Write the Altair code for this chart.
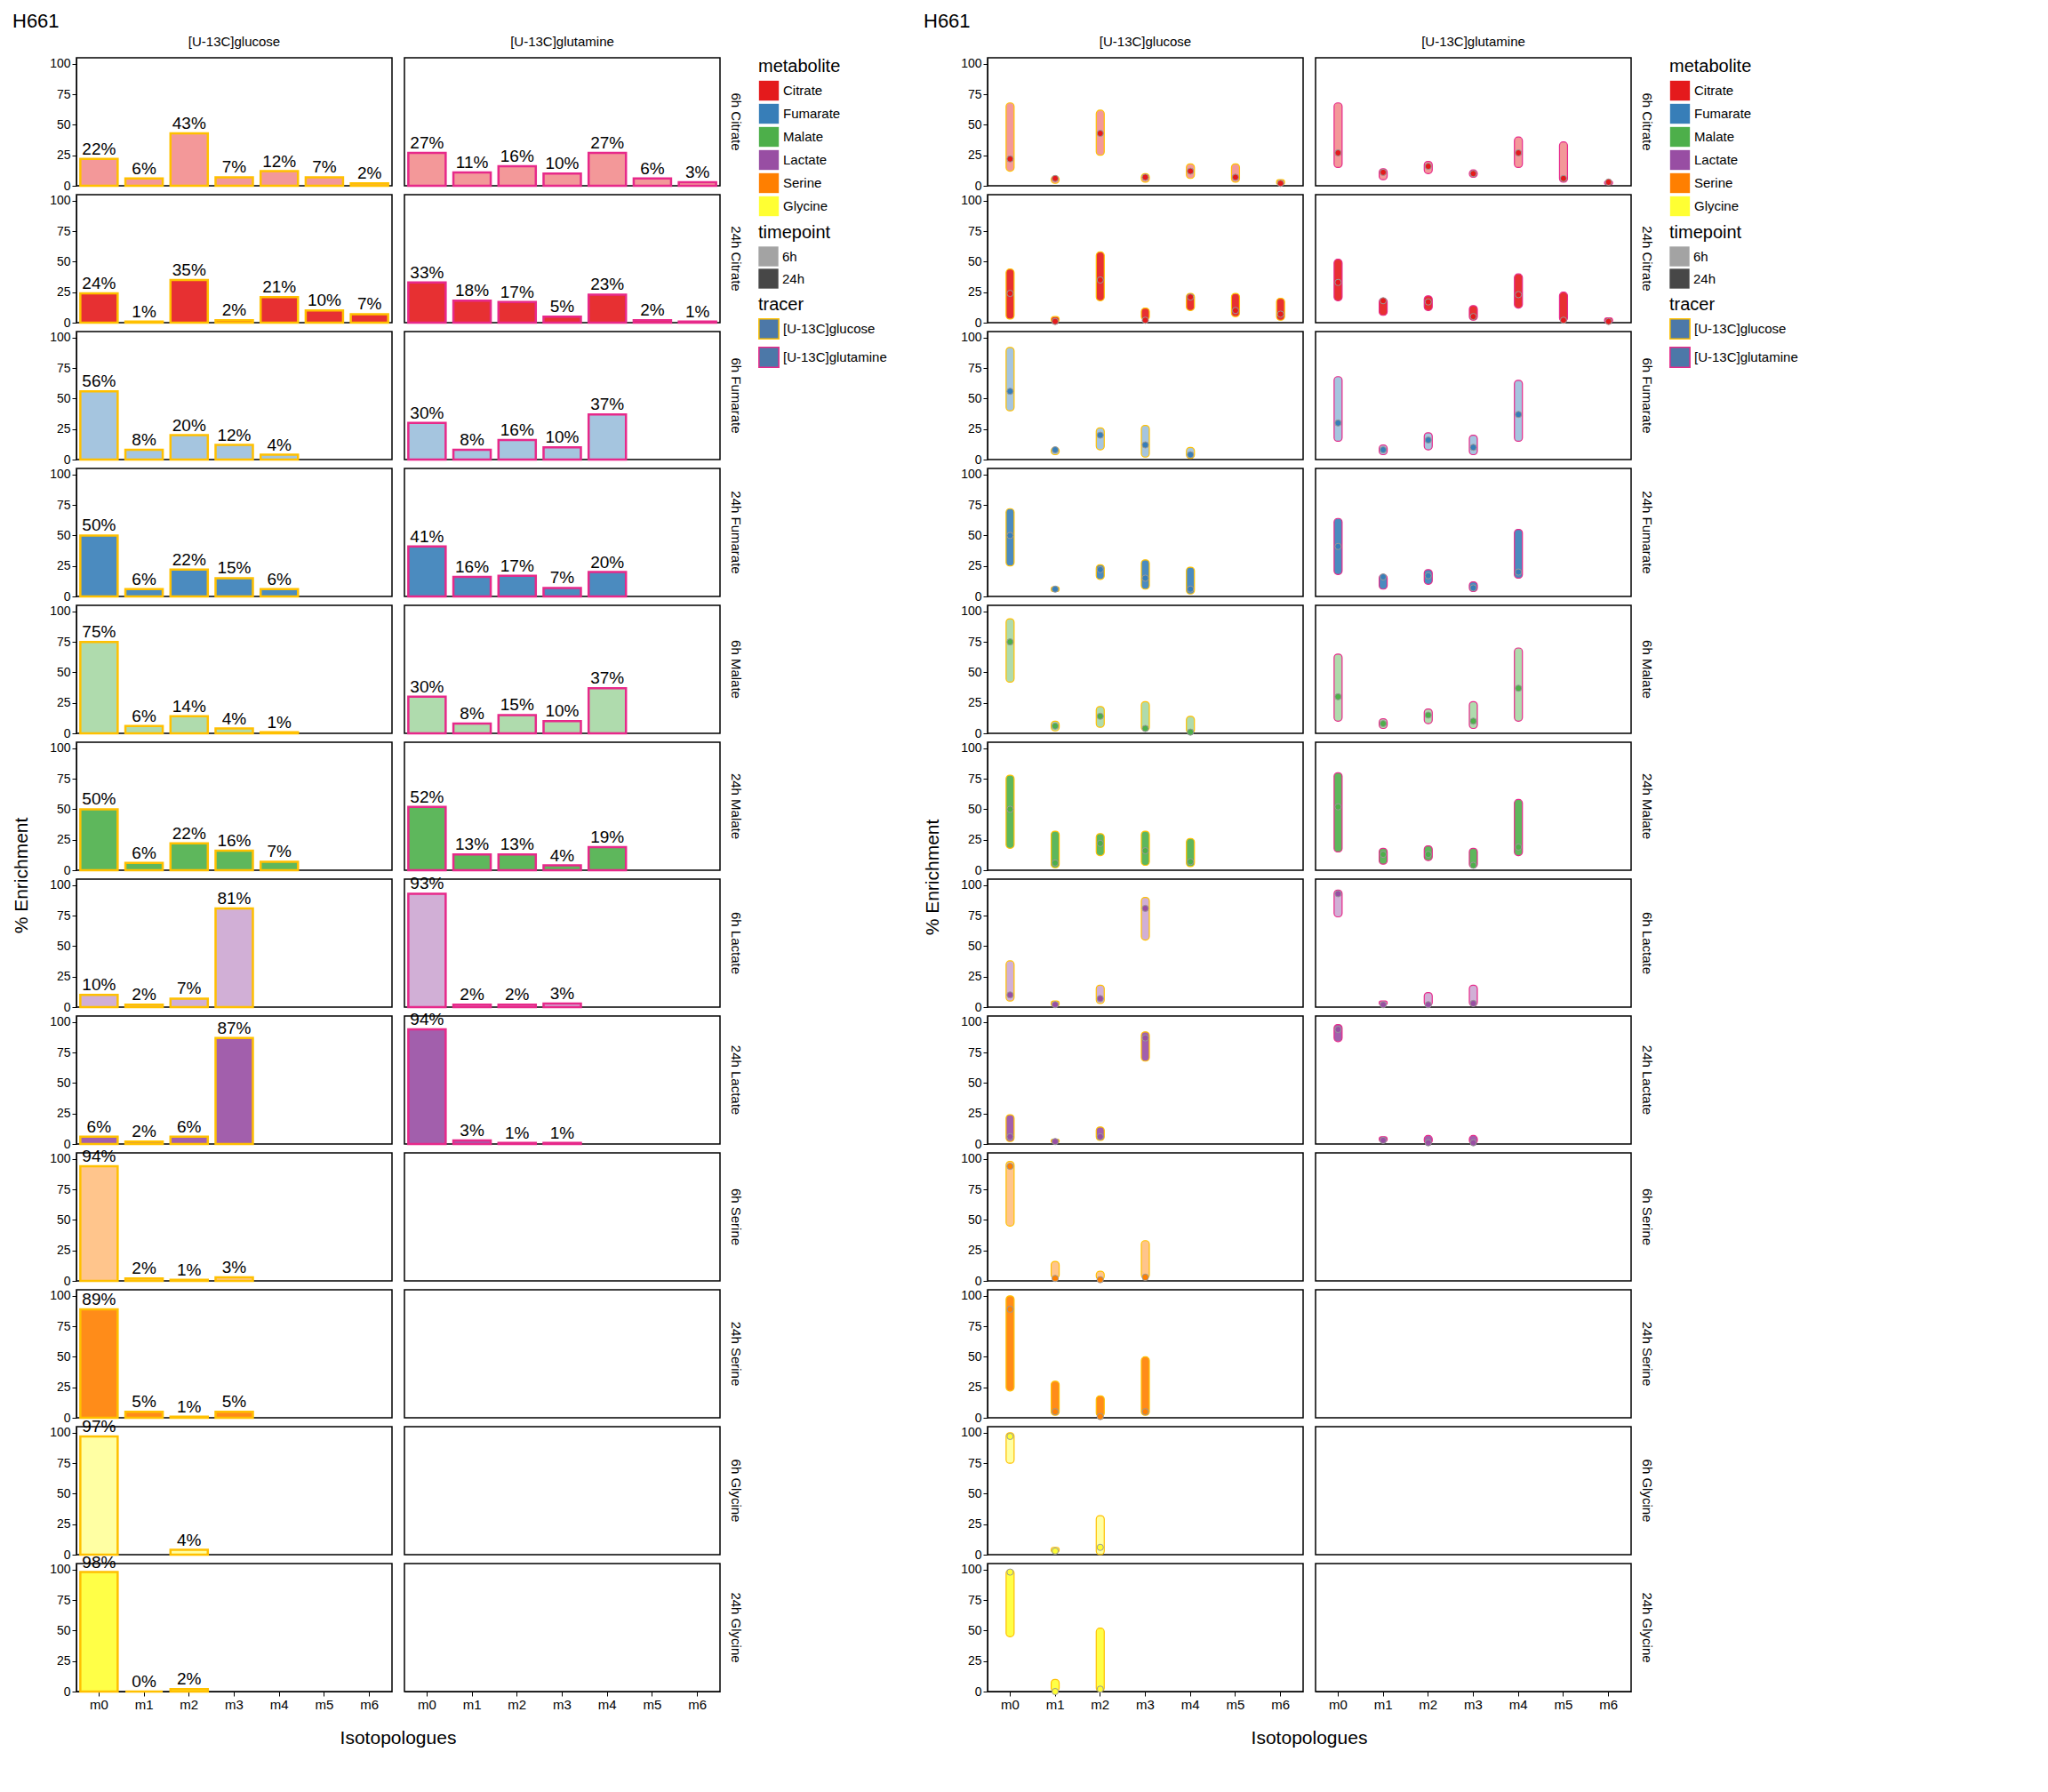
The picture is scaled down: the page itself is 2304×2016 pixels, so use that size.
import altair as alt
import pandas as pd

mets = ["Citrate", "Fumarate", "Malate", "Lactate", "Serine", "Glycine"]
met_colors = ["#E41A1C", "#377EB8", "#4DAF4A", "#984EA3", "#FF7F00", "#FFFF33"]
tracers = ["[U-13C]glucose", "[U-13C]glutamine"]
tracer_colors = ["#FFC000", "#E7298A"]
tps = ["6h", "24h"]
isos = ["m0", "m1", "m2", "m3", "m4", "m5", "m6"]
yticks = [0, 25, 50, 75, 100]

# bar values (% enrichment) per (metabolite, timepoint, tracer), m0.. in order; None = missing
bars_vals = {
    ("Citrate", "6h", "[U-13C]glucose"): [22, 6, 43, 7, 12, 7, 2],
    ("Citrate", "6h", "[U-13C]glutamine"): [27, 11, 16, 10, 27, 6, 3],
    ("Citrate", "24h", "[U-13C]glucose"): [24, 1, 35, 2, 21, 10, 7],
    ("Citrate", "24h", "[U-13C]glutamine"): [33, 18, 17, 5, 23, 2, 1],
    ("Fumarate", "6h", "[U-13C]glucose"): [56, 8, 20, 12, 4],
    ("Fumarate", "6h", "[U-13C]glutamine"): [30, 8, 16, 10, 37],
    ("Fumarate", "24h", "[U-13C]glucose"): [50, 6, 22, 15, 6],
    ("Fumarate", "24h", "[U-13C]glutamine"): [41, 16, 17, 7, 20],
    ("Malate", "6h", "[U-13C]glucose"): [75, 6, 14, 4, 1],
    ("Malate", "6h", "[U-13C]glutamine"): [30, 8, 15, 10, 37],
    ("Malate", "24h", "[U-13C]glucose"): [50, 6, 22, 16, 7],
    ("Malate", "24h", "[U-13C]glutamine"): [52, 13, 13, 4, 19],
    ("Lactate", "6h", "[U-13C]glucose"): [10, 2, 7, 81],
    ("Lactate", "6h", "[U-13C]glutamine"): [93, 2, 2, 3],
    ("Lactate", "24h", "[U-13C]glucose"): [6, 2, 6, 87],
    ("Lactate", "24h", "[U-13C]glutamine"): [94, 3, 1, 1],
    ("Serine", "6h", "[U-13C]glucose"): [94, 2, 1, 3],
    ("Serine", "6h", "[U-13C]glutamine"): [],
    ("Serine", "24h", "[U-13C]glucose"): [89, 5, 1, 5],
    ("Serine", "24h", "[U-13C]glutamine"): [],
    ("Glycine", "6h", "[U-13C]glucose"): [97, None, 4],
    ("Glycine", "6h", "[U-13C]glutamine"): [],
    ("Glycine", "24h", "[U-13C]glucose"): [98, 0, 2],
    ("Glycine", "24h", "[U-13C]glutamine"): [],
}
# violin points (mean) and ranges (low, high)
vio_mean = dict(bars_vals)
vio_mean[("Glycine", "6h", "[U-13C]glucose")] = [97, 3, 6]
vio_lo = {
    ("Citrate", "6h", "[U-13C]glucose"): [12, 2, 25, 3, 6, 3, 1],
    ("Citrate", "6h", "[U-13C]glutamine"): [15, 5, 10, 7, 15, 3, 1],
    ("Citrate", "24h", "[U-13C]glucose"): [3, 0, 18, 2, 10, 5, 2],
    ("Citrate", "24h", "[U-13C]glutamine"): [18, 6, 10, 2, 12, 1, 0],
    ("Fumarate", "6h", "[U-13C]glucose"): [40, 4, 8, 2, 1],
    ("Fumarate", "6h", "[U-13C]glutamine"): [15, 4, 8, 4, 15],
    ("Fumarate", "24h", "[U-13C]glucose"): [25, 4, 14, 6, 2],
    ("Fumarate", "24h", "[U-13C]glutamine"): [18, 6, 10, 4, 15],
    ("Malate", "6h", "[U-13C]glucose"): [42, 2, 5, 2, 0],
    ("Malate", "6h", "[U-13C]glutamine"): [10, 4, 8, 4, 10],
    ("Malate", "24h", "[U-13C]glucose"): [18, 2, 12, 4, 3],
    ("Malate", "24h", "[U-13C]glutamine"): [15, 5, 8, 2, 12],
    ("Lactate", "6h", "[U-13C]glucose"): [5, 1, 3, 55],
    ("Lactate", "6h", "[U-13C]glutamine"): [74, 2, 1, 1],
    ("Lactate", "24h", "[U-13C]glucose"): [2, 1, 3, 68],
    ("Lactate", "24h", "[U-13C]glutamine"): [84, 2, 0, 0],
    ("Serine", "6h", "[U-13C]glucose"): [45, 2, 1, 2],
    ("Serine", "24h", "[U-13C]glucose"): [22, 2, 1, 2],
    ("Glycine", "6h", "[U-13C]glucose"): [75, 2, 0],
    ("Glycine", "24h", "[U-13C]glucose"): [45, 0, 0],
}
vio_hi = {
    ("Citrate", "6h", "[U-13C]glucose"): [68, 8, 62, 10, 18, 18, 5],
    ("Citrate", "6h", "[U-13C]glutamine"): [68, 14, 20, 13, 40, 36, 4],
    ("Citrate", "24h", "[U-13C]glucose"): [44, 5, 58, 12, 24, 24, 20],
    ("Citrate", "24h", "[U-13C]glutamine"): [52, 20, 22, 14, 40, 25, 4],
    ("Fumarate", "6h", "[U-13C]glucose"): [92, 10, 26, 28, 10],
    ("Fumarate", "6h", "[U-13C]glutamine"): [68, 12, 22, 20, 65],
    ("Fumarate", "24h", "[U-13C]glucose"): [72, 8, 26, 30, 24],
    ("Fumarate", "24h", "[U-13C]glutamine"): [64, 18, 22, 12, 55],
    ("Malate", "6h", "[U-13C]glucose"): [94, 10, 22, 26, 14],
    ("Malate", "6h", "[U-13C]glutamine"): [65, 12, 20, 26, 70],
    ("Malate", "24h", "[U-13C]glucose"): [78, 32, 30, 32, 26],
    ("Malate", "24h", "[U-13C]glutamine"): [80, 18, 20, 18, 58],
    ("Lactate", "6h", "[U-13C]glucose"): [38, 5, 18, 90],
    ("Lactate", "6h", "[U-13C]glutamine"): [96, 5, 12, 18],
    ("Lactate", "24h", "[U-13C]glucose"): [24, 4, 14, 92],
    ("Lactate", "24h", "[U-13C]glutamine"): [98, 6, 7, 7],
    ("Serine", "6h", "[U-13C]glucose"): [98, 16, 8, 33],
    ("Serine", "24h", "[U-13C]glucose"): [100, 30, 18, 50],
    ("Glycine", "6h", "[U-13C]glucose"): [100, 6, 32],
    ("Glycine", "24h", "[U-13C]glucose"): [100, 10, 52],
}

row_order = [f"{t}   {m}" for m in mets for t in tps]

def build(vals, lo=None, hi=None):
    rows = []
    for (m, t, tr), v in vals.items():
        base = dict(metabolite=m, timepoint=t, tracer=tr, panel=f"{t}   {m}")
        if not v:
            r = dict(base, iso="m0", value=None, label="")
            if lo is not None:
                r["lo"] = None
                r["hi"] = None
            rows.append(r)
            continue
        for i, x in enumerate(v):
            if x is None:
                continue
            r = dict(base, iso=isos[i], value=x, label=f"{x}%")
            if lo is not None:
                r["lo"] = lo[(m, t, tr)][i]
                r["hi"] = hi[(m, t, tr)][i]
            rows.append(r)
    return pd.DataFrame(rows)

df_bar = build(bars_vals)
df_vio = build(vio_mean, vio_lo, vio_hi)

FONT = "Liberation Sans"
W, H = 355, 144

xenc = alt.X("iso:N", sort=isos, scale=alt.Scale(domain=isos), title=None,
             axis=alt.Axis(labelAngle=0, labelFontSize=15))
yscale = alt.Scale(domain=[0, 105], nice=False)
yaxis = alt.Axis(values=yticks, grid=False, title=None, labelOverlap=False,
                 labelFontSize=14, labelFlush=False)
color = alt.Color("metabolite:N", scale=alt.Scale(domain=mets, range=met_colors),
                  legend=alt.Legend(symbolType="square", symbolSize=500, orient="right"))
stroke = alt.Stroke("tracer:N", scale=alt.Scale(domain=tracers, range=tracer_colors),
                    legend=alt.Legend(symbolType="square", symbolSize=500, symbolFillColor="#555"))
opac = alt.Opacity("timepoint:N", scale=alt.Scale(domain=tps, range=[0.45, 0.9]),
                   legend=alt.Legend(symbolType="square", symbolSize=500, symbolFillColor="#333",
                                     symbolStrokeWidth=0))

def Y(field):
    return alt.Y(field, scale=yscale, axis=yaxis)

facet_args = dict(
    row=alt.Row("panel:N", sort=row_order, title="% Enrichment",
                header=alt.Header(labelOrient="right", labelAngle=90, labelFontSize=15, labelFont=FONT,
                                  titleOrient="left", titleFontSize=21, titleFont=FONT,
                                  titleFontWeight="normal")),
    column=alt.Column("tracer:N", sort=tracers, title="Isotopologues",
                      header=alt.Header(labelFontSize=15, labelFont=FONT, labelOrient="top",
                                        titleOrient="bottom", titleFontSize=21, titleFont=FONT,
                                        titleFontWeight="normal")),
)

bar = alt.Chart().mark_bar(size=42, strokeWidth=0).encode(
    x=xenc, y=Y("value:Q"), color=color, opacity=opac)
outline = alt.Chart().mark_bar(size=42, strokeWidth=2.5, fillOpacity=0).encode(
    x=xenc, y=Y("value:Q"), stroke=stroke)
txt = alt.Chart().transform_filter("datum.value != null").mark_text(
    dy=-11, fontSize=19, font=FONT, color="black").encode(
    x=xenc, y=Y("value:Q"), text="label:N")
left = alt.layer(bar, outline, txt, data=df_bar).properties(width=W, height=H).facet(
    **facet_args, spacing={"row": 10, "column": 14}).properties(
    bounds="flush",
    title=alt.Title("H661", anchor="start", fontSize=22, fontWeight="normal", font=FONT))

vband = alt.Chart().transform_filter("datum.value != null").mark_bar(
    strokeWidth=0, size=9, cornerRadius=4).encode(
    x=xenc, y=Y("lo:Q"), y2="hi:Q", color=color, opacity=opac)
vline = alt.Chart().transform_filter("datum.value != null").mark_bar(
    strokeWidth=1.2, size=9, cornerRadius=4, fillOpacity=0).encode(
    x=xenc, y=Y("lo:Q"), y2="hi:Q", stroke=stroke)
vpt = alt.Chart().transform_filter("datum.value != null").mark_circle(
    size=50, opacity=1, stroke="#999", strokeWidth=1).encode(
    x=xenc, y=Y("value:Q"),
    color=alt.Color("metabolite:N", scale=alt.Scale(domain=mets, range=met_colors), legend=None))
right = alt.layer(vband, vline, vpt, data=df_vio).properties(width=W, height=H).facet(
    **facet_args, spacing={"row": 10, "column": 14}).properties(
    bounds="flush",
    title=alt.Title("H661", anchor="start", fontSize=22, fontWeight="normal", font=FONT))

chart = alt.hconcat(left, right, spacing=40).resolve_legend(
    color="independent", stroke="independent", opacity="independent").configure_view(
    stroke="black", strokeWidth=1.5).configure_axis(
    labelFont=FONT, titleFont=FONT, labelFontSize=14, titleFontSize=20, titleFontWeight="normal",
    domainColor="black", tickColor="black").configure_legend(
    labelFont=FONT, titleFont=FONT, labelFontSize=15, titleFontSize=20, titleFontWeight="normal")

chart.save("out.html", embed_options={"renderer": "svg", "actions": False})
